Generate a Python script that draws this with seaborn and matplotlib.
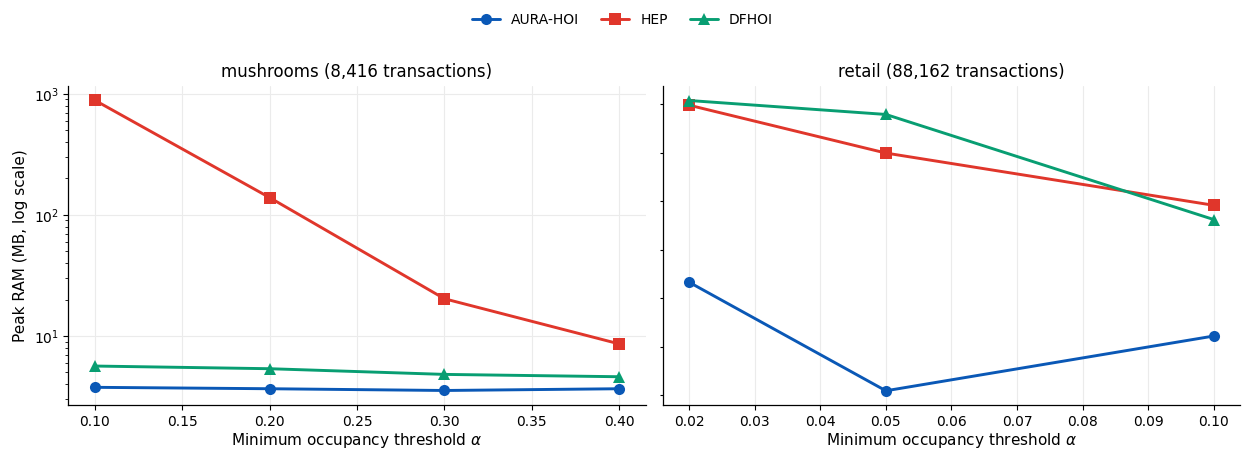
import numpy as np
import pandas as pd
import matplotlib.pyplot as plt
import seaborn as sns

sns.set_style("ticks", {"axes.edgecolor": "black", "xtick.color": "black",
                        "ytick.color": "black", "text.color": "black",
                        "axes.labelcolor": "black"})
plt.rcParams["font.family"] = ["DejaVu Sans"]
plt.rcParams["xtick.major.size"] = 3.5
plt.rcParams["ytick.major.size"] = 3.5
plt.rcParams["ytick.minor.size"] = 2
plt.rcParams["axes.linewidth"] = 0.9

methods = ["AURA-HOI", "HEP", "DFHOI"]
colors = {"AURA-HOI": "#0a58b6", "HEP": "#e0362b", "DFHOI": "#089e72"}
markers = {"AURA-HOI": "o", "HEP": "s", "DFHOI": "^"}

# mushrooms
mush_alpha = [0.10, 0.20, 0.30, 0.40]
mush_aura = [3.77, 3.67, 3.55, 3.67]
mush_hep = [885, 139, 20.3, 8.6]
mush_dfhoi = [5.65, 5.37, 4.82, 4.61]

# retail
retail_alpha = [0.02, 0.05, 0.10]
retail_aura = [27.8, 3.53, 10.0]
retail_hep = [805, 324, 120]
retail_dfhoi = [880, 675, 91.5]


def to_long(alpha, aura, hep, dfhoi):
    rows = []
    for name, vals in zip(methods, [aura, hep, dfhoi]):
        for a, v in zip(alpha, vals):
            rows.append({"alpha": a, "ram": v, "method": name})
    return pd.DataFrame(rows)


df_mush = to_long(mush_alpha, mush_aura, mush_hep, mush_dfhoi)
df_retail = to_long(retail_alpha, retail_aura, retail_hep, retail_dfhoi)

fig, axes = plt.subplots(1, 2, figsize=(12.45, 4.51), dpi=100)

for ax, df, title in zip(axes, [df_mush, df_retail],
                         ["mushrooms (8,416 transactions)", "retail (88,162 transactions)"]):
    sns.lineplot(data=df, x="alpha", y="ram", hue="method", style="method",
                 hue_order=methods, style_order=methods, palette=colors,
                 markers=markers, dashes=False, markersize=8, linewidth=2.1,
                 markeredgewidth=0, ax=ax, legend=(ax is axes[0]))
    ax.set_yscale("log")
    ax.set_title(title, fontsize=12)
    ax.set_xlabel(r"Minimum occupancy threshold $\alpha$", fontsize=11, labelpad=2)
    ax.tick_params(labelsize=10)
    sns.despine(ax=ax)

ax1, ax2 = axes
ax1.set_ylabel("Peak RAM (MB, log scale)", fontsize=11)
ax1.set_xticks([0.10, 0.15, 0.20, 0.25, 0.30, 0.35, 0.40])
ax1.grid(True, which="major", color="#ebebeb", linewidth=0.8)
ax1.set_axisbelow(True)

ax2.set_xticks(np.round(np.arange(0.02, 0.101, 0.01), 2))
ax2.set_xticklabels([f"{t:.2f}" for t in np.arange(0.02, 0.101, 0.01)])
ax2.set_ylabel("")
ax2.set_ylim(ax1.get_ylim())
ax2.set_yticks(10 ** np.arange(0.512, 3.0, 0.4))
ax2.yaxis.set_minor_locator(plt.NullLocator())
ax2.set_yticklabels([])
ax2.tick_params(axis="y", length=2)
ax2.grid(True, axis="x", color="#ebebeb", linewidth=0.8)
ax2.set_axisbelow(True)

handles, labels = ax1.get_legend_handles_labels()
ax1.get_legend().remove()
fig.legend(handles, labels, loc="upper center", ncol=3, frameon=False,
           bbox_to_anchor=(0.5, 1.0), fontsize=10, handlelength=2.0, columnspacing=1.6)

fig.subplots_adjust(left=0.055, right=0.996, top=0.81, bottom=0.102, wspace=0.03)
fig.savefig("out.png", dpi=100)
